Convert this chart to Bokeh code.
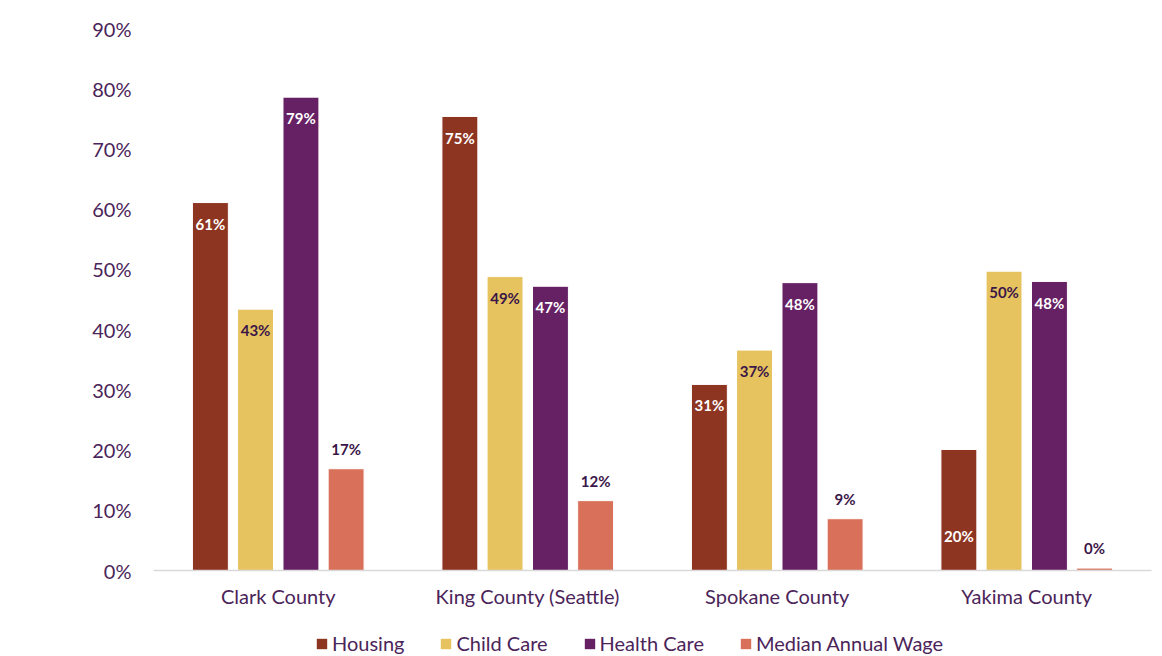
from bokeh.plotting import figure
from bokeh.layouts import column
from bokeh.models import ColumnDataSource, FactorRange, Range1d, Legend, LegendItem, PrintfTickFormatter, FixedTicker
from bokeh.transform import dodge
from bokeh.core.properties import value
from bokeh.embed import file_html
from bokeh.resources import INLINE

counties = ["Clark County", "King County (Seattle)", "Spokane County", "Yakima County"]
series = ["Housing", "Child Care", "Health Care", "Median Annual Wage"]
housing = [61.1, 75.4, 30.9, 20.1]
child_care = [43.4, 48.8, 36.6, 49.7]
health_care = [78.6, 47.2, 47.8, 48.0]
median_wage = [16.9, 11.6, 8.6, 0.4]
y_ticks = [0, 10, 20, 30, 40, 50, 60, 70, 80, 90]

colors = ["#8E3522", "#E6C35E", "#662064", "#D9705A"]
label_colors = ["#FFFFFF", "#3B1648", "#FFFFFF", "#3B1648"]
label_modes = ["end", "end", "end", "above"]
base_label = {(0, 3)}

FONT = "Lato"
TXT = "#4B2459"

p = figure(x_range=FactorRange(*counties, range_padding=0), y_range=Range1d(0, 90),
           width=1162, height=616, output_backend="svg", toolbar_location=None,
           min_border_left=153, min_border_right=11, min_border_top=28, min_border_bottom=46,
           background_fill_color="white", border_fill_color="white")
p.outline_line_color = None
p.xgrid.grid_line_color = None
p.ygrid.grid_line_color = None

# legend strip below the chart (its ranges keep the same bars out of view)
lg = figure(width=1162, height=40, output_backend="svg", toolbar_location=None,
            x_range=FactorRange(*counties, range_padding=0), y_range=Range1d(1000, 1001),
            min_border=0, background_fill_color="white", border_fill_color="white")
lg.outline_line_color = None
lg.axis.visible = False
lg.grid.visible = False

offsets = [-0.272, -0.091, 0.091, 0.272]
bw = 0.144
all_vals = [housing, child_care, health_care, median_wage]
items = []
for si, (name, vals) in enumerate(zip(series, all_vals)):
    labels = [f"{round(v)}%" for v in vals]
    ly = []
    for ci, v in enumerate(vals):
        if (si, ci) in base_label:
            ly.append(5.8)
        elif label_modes[si] == "above":
            ly.append(v + 3.3)
        else:
            ly.append(v - 3.5)
    src = ColumnDataSource(dict(x=counties, top=vals, lab=labels, ly=ly))
    p.vbar(x=dodge("x", offsets[si], range=p.x_range), top="top", width=bw, source=src,
           fill_color=colors[si], line_color="white", line_width=1)
    p.text(x=dodge("x", offsets[si], range=p.x_range), y="ly", text="lab", source=src,
           text_font=value(FONT), text_font_style="bold", text_font_size="15px",
           text_color=label_colors[si], text_align="center", text_baseline="middle")
    r = lg.vbar(x=dodge("x", offsets[si], range=lg.x_range), top="top", width=bw, source=src,
                fill_color=colors[si], line_color=None)
    items.append(LegendItem(label=name, renderers=[r]))

p.yaxis.ticker = FixedTicker(ticks=y_ticks)
p.yaxis.formatter = PrintfTickFormatter(format="%d%%")
p.yaxis.axis_line_color = None
p.yaxis.major_tick_line_color = None
p.yaxis.minor_tick_line_color = None
p.yaxis.major_label_standoff = 16
p.yaxis.major_label_text_font = FONT
p.yaxis.major_label_text_font_size = "20px"
p.yaxis.major_label_text_color = TXT

p.xaxis.axis_line_color = "#D9D9D9"
p.xaxis.axis_line_width = 1.5
p.xaxis.major_tick_line_color = None
p.xaxis.minor_tick_line_color = None
p.xaxis.major_label_standoff = 7
p.xaxis.major_label_text_font = FONT
p.xaxis.major_label_text_font_size = "20px"
p.xaxis.major_label_text_color = TXT

legend = Legend(items=items, orientation="horizontal", location=(162, 1),
                label_text_font=FONT, label_text_font_size="20px", label_text_color=TXT,
                glyph_width=13, glyph_height=13, label_standoff=4, spacing=35,
                padding=0, margin=0, background_fill_alpha=0, border_line_alpha=0)
lg.add_layout(legend, "center")

open("out.html", "w").write(file_html(column(p, lg, spacing=0), INLINE))
